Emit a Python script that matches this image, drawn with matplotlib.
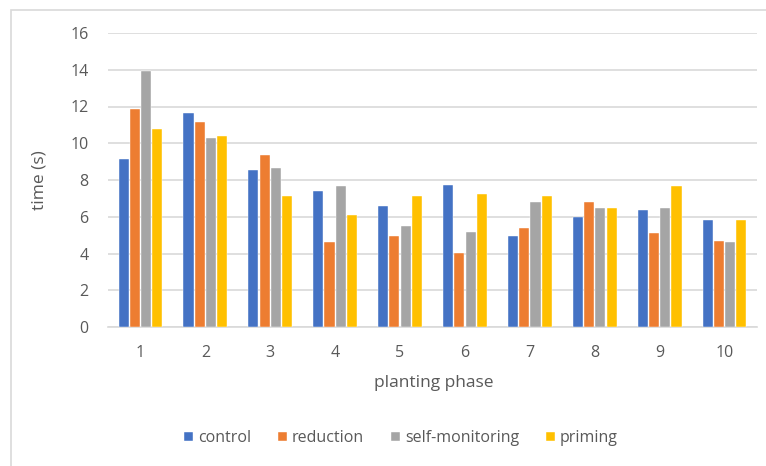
import matplotlib
matplotlib.use("Agg")
import matplotlib.pyplot as plt
from matplotlib.patches import Rectangle
import numpy as np

phases = ["1", "2", "3", "4", "5", "6", "7", "8", "9", "10"]
control = [9.15, 11.65, 8.55, 7.4, 6.6, 7.75, 4.95, 6.0, 6.35, 5.85]
reduction = [11.85, 11.15, 9.35, 4.6, 4.95, 4.05, 5.4, 6.8, 5.1, 4.7]
self_monitoring = [13.95, 10.3, 8.65, 7.65, 5.5, 5.15, 6.8, 6.45, 6.45, 4.6]
priming = [10.8, 10.4, 7.15, 6.1, 7.15, 7.25, 7.15, 6.5, 7.65, 5.85]
series_names = ["control", "reduction", "self-monitoring", "priming"]
colors = ["#4472C4", "#ED7D31", "#A5A5A5", "#FFC000"]
yticks = [0, 2, 4, 6, 8, 10, 12, 14, 16]

plt.rcParams['font.family'] = ['Open Sans', 'DejaVu Sans']
txt = "#595959"

W, H = 766, 466
fig = plt.figure(figsize=(W / 100, H / 100), dpi=100)
ax = fig.add_axes([108 / W, 1 - 327 / H, (757 - 108) / W, (327 - 33) / H])

# outer chart border
fig.patches.append(Rectangle((11 / W, -0.05), 1.1, 1 - 10 / H + 0.05,
                             transform=fig.transFigure, fill=False,
                             edgecolor="#d9d9d9", linewidth=1.2, zorder=0))

x = np.arange(len(phases))
slot = 0.173
all_series = [control, reduction, self_monitoring, priming]
for i, (vals, name, c) in enumerate(zip(all_series, series_names, colors)):
    ax.bar(x + (i - 1.5) * slot, vals, width=slot * 0.9, color=c,
           edgecolor="white", linewidth=0.3, label=name, zorder=3)

ax.set_xlim(-0.5, len(phases) - 0.5)
ax.set_ylim(0, 16)
ax.set_yticks(yticks)
ax.set_yticklabels([str(t) for t in yticks])
ax.set_xticks(x)
ax.set_xticklabels(phases)
ax.yaxis.grid(True, color="#d9d9d9", linewidth=1.2, zorder=0)
ax.set_axisbelow(True)
for s in ["top", "right", "left"]:
    ax.spines[s].set_visible(False)
ax.spines["bottom"].set_color("#d9d9d9")
ax.spines["bottom"].set_linewidth(1.2)
ax.tick_params(axis="both", length=0, colors=txt, labelsize=11.5)
ax.tick_params(axis="y", pad=14)
ax.tick_params(axis="x", pad=13)

fig.text(40 / W, 1 - 180 / H, "time (s)", rotation=90, ha="center",
         va="center", color=txt, fontsize=12.5)
fig.text(434 / W, 1 - 383 / H, "planting phase", ha="center",
         va="center", color=txt, fontsize=12.5)

handles, labels = ax.get_legend_handles_labels()
fig.legend(handles, labels, loc="center", bbox_to_anchor=(401 / W, 1 - 438 / H),
           ncol=4, frameon=False, fontsize=11.5, labelcolor=txt,
           handlelength=0.55, handleheight=0.55, handletextpad=0.3,
           columnspacing=1.7)

fig.savefig("out.png", dpi=100)
